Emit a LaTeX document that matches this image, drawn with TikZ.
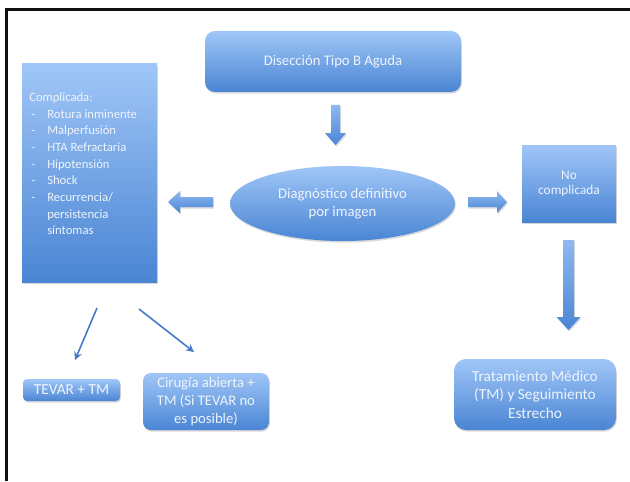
\documentclass[tikz,border=0pt]{standalone}
\usepackage{fontspec}
\setmainfont{Carlito}
\usetikzlibrary{shapes.geometric,shadows,arrows.meta}
\definecolor{bxtop}{RGB}{160,198,247}
\definecolor{bxbot}{RGB}{74,133,212}
\definecolor{txt}{RGB}{238,244,252}
\definecolor{thin}{RGB}{72,122,200}
\definecolor{frame}{RGB}{15,15,15}
\begin{document}
\begin{tikzpicture}[x=0.75pt,y=-0.75pt,
  sh/.style={drop shadow={shadow xshift=0.6pt, shadow yshift=-1.2pt, opacity=0.3}},
  box/.style={top color=bxtop, bottom color=bxbot, draw=none, text=txt, align=center, inner sep=0pt, sh},
  blk/.style={top color=bxtop!80!bxbot, bottom color=bxbot, draw=none, sh},
  thinarr/.style={draw=thin, line width=1.2pt, -{Stealth[length=6pt,width=6pt,inset=2pt]}}]
\useasboundingbox (0,0) rectangle (630,481);
\fill[white] (0,0) rectangle (630,481);
% frame
\draw[frame, line width=2.3pt] (6.5,481) -- (6.5,9.5) -- (630,9.5);
% boxes
\node[box, rounded corners=7.5pt, minimum width=192pt, minimum height=45.75pt,
  font=\fontsize{11}{13}\selectfont] (top) at (333,61.5) {Disección Tipo B Aguda};
\node[box, minimum width=101.25pt, minimum height=163.5pt] (comp) at (89.5,173) {};
\node[text=txt, anchor=north west, align=left, inner sep=0pt,
  font=\fontsize{9.5}{12.5}\selectfont] (complist) at (29,92.5)
  {Complicada:\\
   \hspace*{1.5pt}\makebox[12pt][l]{-}Rotura inminente\\
   \hspace*{1.5pt}\makebox[12pt][l]{-}Malperfusión\\
   \hspace*{1.5pt}\makebox[12pt][l]{-}HTA Refractaria\\
   \hspace*{1.5pt}\makebox[12pt][l]{-}Hipotensión\\
   \hspace*{1.5pt}\makebox[12pt][l]{-}Shock\\
   \hspace*{1.5pt}\makebox[12pt][l]{-}Recurrencia/\\
   \hspace*{13.5pt}persistencia\\
   \hspace*{13.5pt}síntomas};
\node[box, ellipse, minimum width=168.75pt, minimum height=56.25pt,
  font=\fontsize{11}{13.5}\selectfont] (diag) at (342.5,203.5) {Diagnóstico definitivo\\por imagen};
\node[box, minimum width=70.5pt, minimum height=57.75pt,
  font=\fontsize{10}{11.25}\selectfont] (nocomp) at (569,183.5) {No\\complicada};
\node[box, rounded corners=9pt, minimum width=121.5pt, minimum height=53.25pt,
  font=\fontsize{11.5}{13.9}\selectfont] (trat) at (535,394.5) {Tratamiento Médico\\(TM) y Seguimiento\\Estrecho};
\node[box, rounded corners=3pt, minimum width=72.75pt, minimum height=16.5pt,
  font=\fontsize{11.5}{13}\selectfont] (tevar) at (71.5,390) {TEVAR + TM};
\node[box, rounded corners=6pt, minimum width=94.5pt, minimum height=42.75pt,
  font=\fontsize{11}{13.7}\selectfont] (ciru) at (206,401.5) {Cirugía abierta +\\TM (Si TEVAR no\\es posible)};
% block arrows
\path[blk] (331,105) -- (340,105) -- (340,133) -- (346,133) -- (335.5,145) -- (325,133) -- (331,133) -- cycle;
\path[blk] (563,240) -- (574,240) -- (574,317) -- (580.5,317) -- (568.5,330) -- (556.5,317) -- (563,317) -- cycle;
\path[blk] (213,197) -- (213,207) -- (180,207) -- (180,213) -- (168,202) -- (180,191) -- (180,197) -- cycle;
\path[blk] (468,197) -- (468,207) -- (497,207) -- (497,213) -- (507,202) -- (497,191) -- (497,197) -- cycle;
% thin arrows
\coordinate (a1s) at (97,308);
\coordinate (a1e) at (75,360);
\coordinate (a2s) at (139,309);
\coordinate (a2e) at (194,352);
\draw[thinarr] (a1s) -- (a1e);
\draw[thinarr] (a2s) -- (a2e);
\end{tikzpicture}
\end{document}
